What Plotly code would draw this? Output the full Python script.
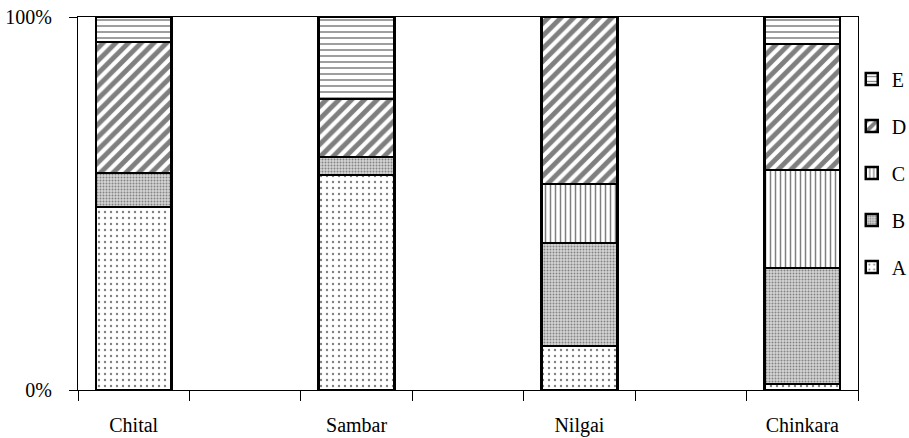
import plotly.graph_objects as go

# Data (percent composition)
categories = ["Chital", "Sambar", "Nilgai", "Chinkara"]
slots = ["Chital", " ", "Sambar", "  ", "Nilgai", "   ", "Chinkara"]
A = [49.1, 57.6, 11.8, 1.6]
B = [9.1, 4.9, 27.6, 31.1]
C = [0.0, 0.0, 15.8, 26.3]
D = [35.1, 15.5, 44.8, 33.8]
E = [6.7, 22.0, 0.0, 7.2]
ytick_vals = [0, 100]
ytick_text = ["0%", "100%"]

series = [
    ("A", A, dict(shape=".", size=6, solidity=0.12, fgcolor="black", bgcolor="white", fillmode="overlay"), "white", 5),
    ("B", B, dict(shape=".", size=3, solidity=0.35, fgcolor="#333333", bgcolor="#d4d4d4", fillmode="overlay"), "#d4d4d4", 4),
    ("C", C, dict(shape="|", size=5, solidity=0.3, fgcolor="black", bgcolor="white", fillmode="overlay"), "white", 3),
    ("D", D, dict(shape="/", size=9, solidity=0.55, fgcolor="black", bgcolor="white", fillmode="overlay"), "white", 2),
    ("E", E, dict(shape="-", size=6, solidity=0.25, fgcolor="black", bgcolor="white", fillmode="overlay"), "white", 1),
]

fig = go.Figure()
for name, vals, pat, col, rank in series:
    fig.add_trace(go.Bar(
        name=name, x=categories, y=vals, width=0.68,
        legendgroup=name, legendrank=rank,
        marker=dict(color=col, pattern=pat, line=dict(color="black", width=2.5)),
    ))

font = dict(family="Liberation Serif, Times New Roman, serif", size=20, color="black")

fig.update_layout(
    width=909, height=438,
    barmode="stack",
    plot_bgcolor="white", paper_bgcolor="white",
    margin=dict(l=78, r=51, t=17, b=48, autoexpand=False),
    font=font,
    showlegend=True,
    legend=dict(x=0.992, xanchor="left", y=0.886, yanchor="top",
                traceorder="grouped", tracegroupgap=18,
                font=font, bgcolor="rgba(0,0,0,0)", itemwidth=30),
    xaxis=dict(type="category", categoryorder="array", categoryarray=slots,
               tickson="boundaries", ticks="outside", ticklen=10, tickcolor="black",
               showline=True, linecolor="black", linewidth=1, mirror=True,
               showgrid=False, tickfont=font, ticklabelstandoff=17, automargin=False),
    yaxis=dict(range=[0, 100], tickvals=ytick_vals, ticktext=ytick_text,
               ticks="outside", ticklen=8, tickcolor="black",
               showline=True, linecolor="black", linewidth=1, mirror=True,
               showgrid=False, zeroline=False, tickfont=font, ticklabelstandoff=13,
               automargin=False),
)

fig.write_html("out.html", config={"displayModeBar": False},
               post_script="document.body.style.margin='0';document.body.style.padding='0';")
